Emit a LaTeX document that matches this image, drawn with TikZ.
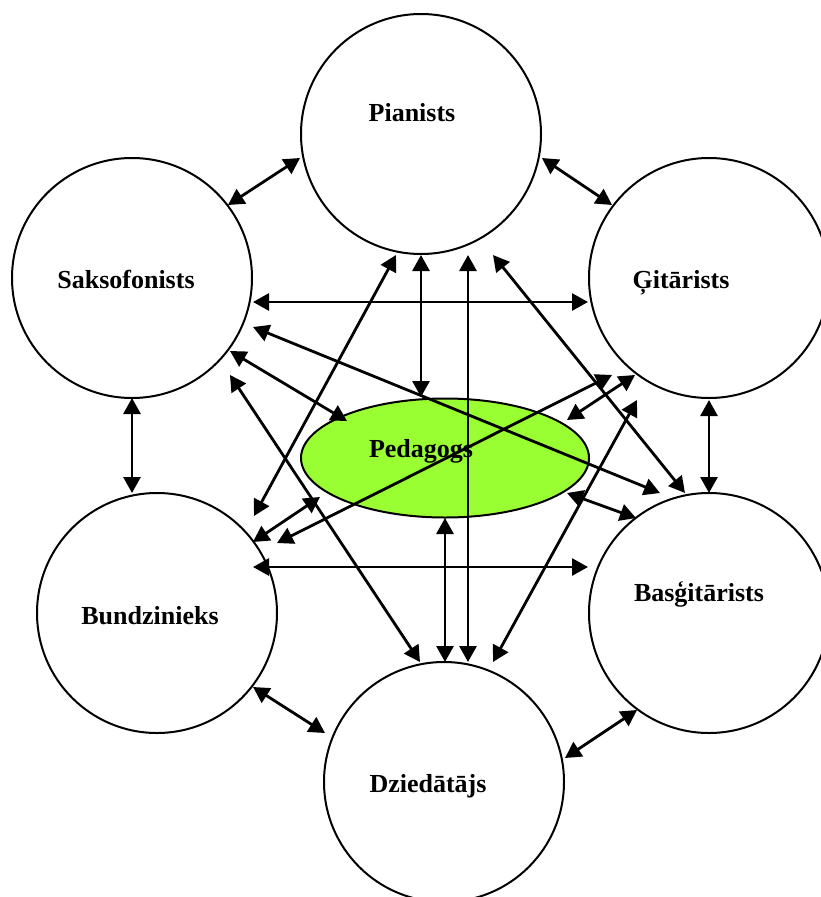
\documentclass[tikz,border=0pt]{standalone}
\usepackage{fontspec}
\setmainfont{Liberation Serif}
\usetikzlibrary{arrows.meta,shapes.geometric}
\definecolor{pedgreen}{RGB}{153,255,51}
\begin{document}
\begin{tikzpicture}[x=1pt,y=-1pt,
  member/.style={circle, draw, line width=2pt, minimum size=240pt, inner sep=0pt},
  hub/.style={ellipse, draw, line width=2pt, fill=pedgreen, minimum width=288pt, minimum height=119pt, inner sep=0pt},
  lbl/.style={anchor=base, inner sep=0pt, font=\bfseries\fontsize{26}{30}\selectfont},
  link/.style={line width=2.8pt, {Triangle[length=16pt,width=17pt]}-{Triangle[length=16pt,width=17pt]}}
]
\fill[white] (0,0) rectangle (821,897);
\clip (0,0) rectangle (821,897);

% musicians and the teacher
\node[member] (pia) at (421,134) {};
\node[member] (sak) at (132,278) {};
\node[member] (git) at (709,278) {};
\node[member] (bun) at (157,613) {};
\node[member] (bas) at (709,613) {};
\node[member] (dzi) at (444,782) {};
\node[hub]    (ped) at (445,458) {};

% two-way links
\draw[link] ([shift={(96,-73)}]sak.center) -- ([shift={(-121,24)}]pia.center);
\draw[link] ([shift={(121,24)}]pia.center) -- ([shift={(-97,-73)}]git.center);
\draw[link] ([shift={(121,24)}]sak.center) -- ([shift={(-121,24)}]git.center);
\draw[link] ([shift={(121,49)}]sak.center) -- ([shift={(-49,-120)}]bas.center);
\draw[link] ([shift={(98,73)}]sak.center) -- ([shift={(-98,-37)}]ped.center);
\draw[link] ([shift={(98,97)}]sak.center) -- ([shift={(-24,-120)}]dzi.center);
\draw[link] ([shift={(0,120)}]sak.center) -- ([shift={(-25,-120)}]bun.center);
\draw[link] ([shift={(-25,121)}]pia.center) -- ([shift={(97,-97)}]bun.center);
\draw[link] ([shift={(0,121)}]pia.center) -- ([shift={(-24,-61)}]ped.center);
\draw[link] ([shift={(47,121)}]pia.center) -- ([shift={(24,-120)}]dzi.center);
\draw[link] ([shift={(72,121)}]pia.center) -- ([shift={(-24,-120)}]bas.center);
\draw[link] ([shift={(-97,97)}]git.center) -- ([shift={(120,-70)}]bun.center);
\draw[link] ([shift={(-74,97)}]git.center) -- ([shift={(122,-38)}]ped.center);
\draw[link] ([shift={(-72,122)}]git.center) -- ([shift={(49,-120)}]dzi.center);
\draw[link] ([shift={(0,122)}]git.center) -- ([shift={(0,-120)}]bas.center);
\draw[link] ([shift={(-125,39)}]ped.center) -- ([shift={(96,-71)}]bun.center);
\draw[link] ([shift={(122,35)}]ped.center) -- ([shift={(-73,-95)}]bas.center);
\draw[link] ([shift={(96,-46)}]bun.center) -- ([shift={(-121,-46)}]bas.center);
\draw[link] ([shift={(0,60)}]ped.center) -- ([shift={(1,-120)}]dzi.center);
\draw[link] ([shift={(96,74)}]bun.center) -- ([shift={(-119,-49)}]dzi.center);
\draw[link] ([shift={(-72,97)}]bas.center) -- ([shift={(121,-24)}]dzi.center);

% names
\node[lbl] (piaT) at (412,121) {Pianists};
\node[lbl] (sakT) at (126,288) {Saksofonists};
\node[lbl] (gitT) at (681,288) {Ģitārists};
\node[lbl] (pedT) at (421,457) {Pedagogs};
\node[lbl] (bunT) at (150,624) {Bundzinieks};
\node[lbl] (basT) at (699,601) {Basģitārists};
\node[lbl] (dziT) at (428,792) {Dziedātājs};
\end{tikzpicture}
\end{document}
